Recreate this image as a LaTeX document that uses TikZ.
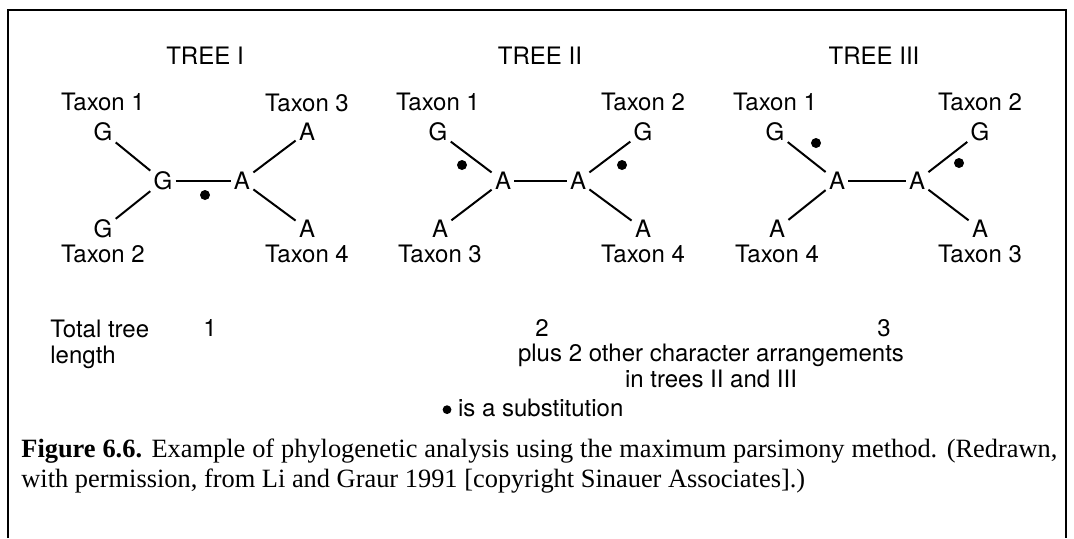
\documentclass[tikz,border=0pt]{standalone}
\usepackage{fontspec}
\setmainfont{TeX Gyre Heros}
\newfontfamily\capfont{Liberation Serif}
\usetikzlibrary{positioning}

\begin{document}
\begin{tikzpicture}[x=0.5pt,y=-0.5pt,
  base/.style={font=\fontsize{12}{13}\selectfont,inner sep=1.5pt},
  taxon/.style={font=\fontsize{12}{13}\selectfont,inner sep=0pt},
  lab/.style={font=\fontsize{12}{13}\selectfont,inner sep=0pt},
  subst/.style={circle,fill,inner sep=0pt,minimum size=5pt},
  branch/.style={line width=1pt}]
\useasboundingbox (0,0) rectangle (1074,538);
\draw[line width=0.9pt] (8,538) -- (8,10) -- (1066,10) -- (1066,538);

% tree I
\node[lab] (titleI) at (205,56) {TREE I};
\node[base] (i1) at (103,132) {G};
\node[base] (i2) at (103,229) {G};
\node[base] (i3) at (307,132) {A};
\node[base] (i4) at (307,229) {A};
\node[base] (iL) at (163,181) {G};
\node[base] (iR) at (242,181) {A};
\node[taxon,above=4pt of i1] {Taxon 1};
\node[taxon,below=1.5pt of i2] {Taxon 2};
\node[taxon,above=4pt of i3] {Taxon 3};
\node[taxon,below=1.5pt of i4] {Taxon 4};
\draw[branch] (i1) -- (iL) -- (i2);
\draw[branch] (iL) -- (iR);
\draw[branch] (i3) -- (iR) -- (i4);
\node[subst] (iS) at (205,195) {};

% tree II
\node[lab] (titleII) at (540,56) {TREE II};
\node[base] (ii1) at (438,132) {G};
\node[base] (ii2) at (643,132) {G};
\node[base] (ii3) at (440,229) {A};
\node[base] (ii4) at (643,229) {A};
\node[base] (iiL) at (503,181) {A};
\node[base] (iiR) at (578,181) {A};
\node[taxon,above=4pt of ii1] {Taxon 1};
\node[taxon,above=4pt of ii2] {Taxon 2};
\node[taxon,below=1.5pt of ii3] {Taxon 3};
\node[taxon,below=1.5pt of ii4] {Taxon 4};
\draw[branch] (ii1) -- (iiL) -- (ii3);
\draw[branch] (iiL) -- (iiR);
\draw[branch] (ii2) -- (iiR) -- (ii4);
\node[subst] (iiS1) at (462,165) {};
\node[subst] (iiS2) at (622,165) {};

% tree III
\node[lab] (titleIII) at (874,56) {TREE III};
\node[base] (iii1) at (775,132) {G};
\node[base] (iii2) at (980,132) {G};
\node[base] (iii4) at (777,229) {A};
\node[base] (iii3) at (980,229) {A};
\node[base] (iiiL) at (837,181) {A};
\node[base] (iiiR) at (917,181) {A};
\node[taxon,above=4pt of iii1] {Taxon 1};
\node[taxon,above=4pt of iii2] {Taxon 2};
\node[taxon,below=1.5pt of iii4] {Taxon 4};
\node[taxon,below=1.5pt of iii3] {Taxon 3};
\draw[branch] (iii1) -- (iiiL) -- (iii4);
\draw[branch] (iiiL) -- (iiiR);
\draw[branch] (iii2) -- (iiiR) -- (iii3);
\node[subst] (iiiS1) at (816,143) {};
\node[subst] (iiiS2) at (959,163) {};

% tree lengths
\node[lab,align=left,anchor=north west] (total) at (50,320) {Total tree\\length};
\node[lab] (len1) at (210,328) {1};
\node[lab] (len2) at (542,328) {2};
\node[lab] (len3) at (884,328) {3};
\node[lab,align=center,anchor=north] (plus) at (711,344)
  {plus 2 other character arrangements\\in trees II and III};
\node[lab] (key) at (533,408)
  {\tikz[baseline=-0.55ex]\fill (0,0) circle (2.2pt); is a substitution};

% caption
\node[inner sep=0pt,anchor=north west,align=left,
  font=\capfont\fontsize{13.2}{15}\selectfont] (cap) at (21,438)
  {\makebox[518pt][s]{\textbf{Figure 6.6.} Example of phylogenetic analysis using the maximum parsimony method. (Redrawn,}\\
   with permission, from Li and Graur 1991 [copyright Sinauer Associates].)};
\end{tikzpicture}
\end{document}
